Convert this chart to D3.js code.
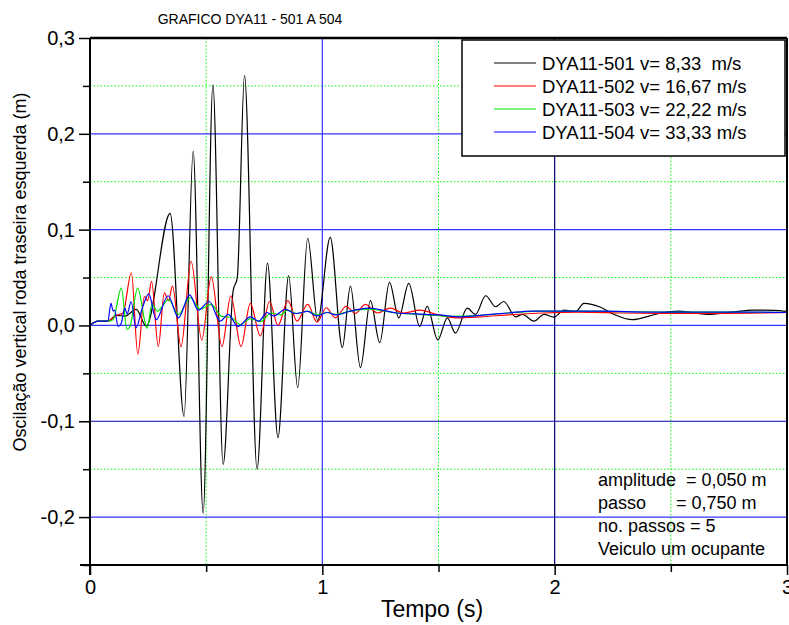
<!DOCTYPE html>
<html>
<head>
<meta charset="utf-8">
<script src="https://cdn.jsdelivr.net/npm/d3@7"></script>
<style>
  html, body { margin: 0; padding: 0; background: #fff; }
  svg { display: block; font-family: "Liberation Sans", Arial, sans-serif; }
</style>
</head>
<body>
<svg id="chart" width="789" height="625"></svg>
<script>
// ---------------- DATA ----------------
const chartTitle = "GRAFICO DYA11 - 501 A 504";
const xTitle = "Tempo (s)";
const yTitle = "Oscilação vertical roda traseira esquerda (m)";
const seriesNames = [
  "DYA11-501 v= 8,33  m/s",
  "DYA11-502 v= 16,67 m/s",
  "DYA11-503 v= 22,22 m/s",
  "DYA11-504 v= 33,33 m/s"
];
const xTicks = [0, 1, 2, 3];
const xTickLabels = ["0", "1", "2", "3"];
const yTicks = [0.3, 0.2, 0.1, 0.0, -0.1, -0.2];
const yTickLabels = ["0,3", "0,2", "0,1", "0,0", "-0,1", "-0,2"];
const xMinor = [0.5, 1.5, 2.5];
const yMinor = [0.25, 0.15, 0.05, -0.05, -0.15, -0.25];
const notes = ["amplitude  = 0,050 m", "passo      = 0,750 m", "no. passos = 5", "Veiculo um ocupante"];

// [time (s), displacement (m)]
const dya501 = [[0,0],[0.035,0.0045],[0.077,0.0045],[0.113,0.0105],[0.150,0.0097],[0.199,0.0167],[0.242,-0.0007],
  [0.345,0.117],[0.405,-0.095],[0.444,0.182],[0.487,-0.196],[0.529,0.251],[0.573,-0.145],[0.616,0.036],[0.634,0.05],
  [0.665,0.261],[0.719,-0.150],[0.764,0.065],[0.809,-0.117],[0.855,0.052],[0.894,-0.065],[0.937,0.091],[0.980,0.005],
  [1.034,0.092],[1.086,-0.023],[1.121,0.041],[1.164,-0.044],[1.207,0.026],[1.247,-0.018],[1.289,0.045],[1.329,0.008],
  [1.372,0.044],[1.419,-0.001],[1.451,0.020],[1.497,-0.015],[1.538,0.008],[1.573,-0.008],[1.624,0.018],[1.659,0.0115],
  [1.703,0.031],[1.746,0.0195],[1.781,0.025],[1.832,0.009],[1.861,0.0115],[1.911,0.0045],[1.954,0.0115],[1.997,0.0087],
  [2.040,0.016],[2.091,0.0146],[2.126,0.023],[2.198,0.019],[2.256,0.0115],[2.335,0.006],[2.406,0.0097],[2.457,0.013],
  [2.536,0.015],[2.658,0.0115],[2.759,0.0139],[2.859,0.016],[2.945,0.0157],[3.0,0.0146]];

const dya502 = [[0,0],[0.035,0.0045],[0.077,0.0045],[0.113,0.0105],[0.142,0.013],[0.178,0.055],[0.206,-0.030],
  [0.234,0.030],[0.248,0.026],[0.265,0.046],[0.294,-0.022],[0.320,0.034],[0.338,0.026],[0.355,0.041],[0.392,-0.022],
  [0.435,0.067],[0.481,-0.015],[0.522,0.051],[0.568,-0.022],[0.606,0.031],[0.650,-0.022],[0.690,0.023],[0.733,-0.011],
  [0.773,0.025],[0.809,0.0],[0.852,0.026],[0.891,0.0045],[0.937,0.022],[0.977,0.0035],[1.017,0.0185],[1.056,0.008],
  [1.103,0.020],[1.142,0.0125],[1.185,0.022],[1.237,0.013],[1.293,0.018],[1.349,0.013],[1.42,0.016],[1.5,0.011],
  [1.58,0.008],[1.68,0.009],[1.8,0.011],[1.95,0.013],[2.1,0.014],[2.3,0.013],[2.5,0.0125],[2.7,0.0125],[2.9,0.013],[3.0,0.0135]];

const dya503 = [[0,0],[0.035,0.0045],[0.077,0.0045],[0.099,0.006],[0.135,0.039],[0.159,-0.004],[0.172,-0.001],
  [0.205,0.039],[0.246,-0.003],[0.267,0.022],[0.29,0.015],[0.338,0.027],[0.381,0.0115],[0.431,0.029],[0.474,0.017],
  [0.522,0.022],[0.565,0.0097],[0.61,0.008],[0.648,0.001],[0.69,0.007],[0.733,0.004],[0.78,0.013],[0.82,0.011],
  [0.85,0.016],[0.89,0.0125],[0.937,0.015],[0.98,0.011],[1.02,0.0135],[1.06,0.0115],[1.12,0.015],[1.2,0.017],
  [1.32,0.013],[1.45,0.011],[1.55,0.0095],[1.65,0.010],[1.8,0.013],[1.95,0.015],[2.1,0.015],[2.3,0.0145],[2.5,0.014],
  [2.7,0.014],[2.9,0.0138],[3.0,0.0135]];

const dya504 = [[0,0],[0.035,0.0045],[0.077,0.0045],[0.090,0.023],[0.100,0.015],[0.106,0.016],[0.121,-0.001],
  [0.134,0.002],[0.150,0.018],[0.160,0.012],[0.177,0.025],[0.198,-0.0025],[0.225,0.018],[0.253,0.033],[0.285,0.006],
  [0.336,0.031],[0.381,0.008],[0.429,0.032],[0.466,0.016],[0.513,0.025],[0.560,0.0045],[0.595,0.0115],[0.637,-0.001],
  [0.690,0.009],[0.726,0.0045],[0.762,0.0135],[0.790,0.010],[0.841,0.0167],[0.884,0.0125],[0.937,0.0146],[0.977,0.010],
  [1.02,0.0135],[1.06,0.011],[1.12,0.015],[1.2,0.018],[1.32,0.013],[1.4,0.012],[1.5,0.011],[1.6,0.009],[1.7,0.011],
  [1.8,0.013],[1.9,0.015],[2.0,0.015],[2.2,0.015],[2.4,0.014],[2.6,0.014],[2.8,0.014],[3.0,0.0135]];

const seriesData = [dya501, dya502, dya503, dya504];

// ---------------- STYLE / LAYOUT ----------------
const seriesColors = ["#000000", "#ff0000", "#00e600", "#0000ff"];
const L = 90, R = 787, T = 38, B = 565;
const FONT = '"Liberation Sans", Arial, sans-serif';

const svg = d3.select("#chart");
const x = d3.scaleLinear().domain([0, 3]).range([L, R]);
const y = d3.scaleLinear().domain([-0.25, 0.3]).range([B, T]);

// minor grid (green dotted)
const grid = svg.append("g");
grid.selectAll(".hmin").data(yMinor.filter(v => v > -0.25)).enter().append("line")
  .attr("x1", L).attr("x2", R).attr("y1", d => y(d)).attr("y2", d => y(d))
  .attr("stroke", "#00ff00").attr("stroke-width", 1).attr("stroke-dasharray", "1.5,2");
grid.selectAll(".vmin").data(xMinor).enter().append("line")
  .attr("y1", T).attr("y2", B).attr("x1", d => x(d)).attr("x2", d => x(d))
  .attr("stroke", "#00ff00").attr("stroke-width", 1).attr("stroke-dasharray", "1.5,2");
// major grid (blue)
grid.selectAll(".hmaj").data(yTicks.filter(v => v < 0.3)).enter().append("line")
  .attr("x1", L).attr("x2", R).attr("y1", d => y(d)).attr("y2", d => y(d))
  .attr("stroke", d => d === -0.1 ? "#0000b0" : "#3333ff").attr("stroke-width", 1.2);
grid.selectAll(".vmaj").data(xTicks.filter(v => v > 0 && v < 3)).enter().append("line")
  .attr("y1", T).attr("y2", B).attr("x1", d => x(d)).attr("x2", d => x(d))
  .attr("stroke", d => d === 2 ? "#00006a" : "#3333ff").attr("stroke-width", 1.2);

// series
const line = d3.line().x(d => x(d[0])).y(d => y(d[1])).curve(d3.curveMonotoneX);
svg.append("clipPath").attr("id", "clip").append("rect")
  .attr("x", L).attr("y", T).attr("width", R - L).attr("height", B - T);
svg.append("g").attr("clip-path", "url(#clip)").selectAll("path").data(seriesData).enter().append("path")
  .attr("d", line).attr("fill", "none")
  .attr("stroke", (d, i) => seriesColors[i]).attr("stroke-width", 1.2);

// axes
const yAxisMaj = d3.axisLeft(y).tickValues(yTicks).tickSize(11).tickFormat((d, i) => yTickLabels[i]).tickPadding(4);
const gy = svg.append("g").attr("transform", `translate(${L},0)`).call(yAxisMaj);
gy.select(".domain").remove();
gy.selectAll("line").attr("stroke", "#000").attr("stroke-width", 1.5);
gy.selectAll("text").attr("font-size", 20).attr("fill", "#000").attr("font-family", FONT);
const gyMin = svg.append("g").attr("transform", `translate(${L},0)`).call(d3.axisLeft(y).tickValues(yMinor).tickSize(7).tickFormat(""));
gyMin.select(".domain").remove();
gyMin.selectAll("line").attr("stroke", "#000").attr("stroke-width", 1.5);

const xAxisMaj = d3.axisBottom(x).tickValues(xTicks).tickSize(10).tickFormat((d, i) => xTickLabels[i]).tickPadding(5);
const gx = svg.append("g").attr("transform", `translate(0,${B})`).call(xAxisMaj);
gx.select(".domain").remove();
gx.selectAll("line").attr("stroke", "#000").attr("stroke-width", 1.5);
gx.selectAll("text").attr("font-size", 20).attr("fill", "#000").attr("font-family", FONT);
const gxMin = svg.append("g").attr("transform", `translate(0,${B})`).call(d3.axisBottom(x).tickValues(xMinor).tickSize(7).tickFormat(""));
gxMin.select(".domain").remove();
gxMin.selectAll("line").attr("stroke", "#000").attr("stroke-width", 1.5);

// frame
svg.append("line").attr("x1", L - 10).attr("x2", R).attr("y1", B).attr("y2", B).attr("stroke", "#000").attr("stroke-width", 2);
svg.append("line").attr("x1", L).attr("x2", L).attr("y1", T).attr("y2", B + 10).attr("stroke", "#000").attr("stroke-width", 2);
svg.append("line").attr("x1", L).attr("x2", R).attr("y1", T).attr("y2", T).attr("stroke", "#000").attr("stroke-width", 2.5);
svg.append("line").attr("x1", R).attr("x2", R).attr("y1", T).attr("y2", B).attr("stroke", "#000").attr("stroke-width", 2);

// titles
svg.append("text").attr("x", 250).attr("y", 24).attr("text-anchor", "middle")
  .attr("font-size", 14).text(chartTitle);
svg.append("text").attr("x", 432).attr("y", 617).attr("text-anchor", "middle")
  .attr("font-size", 23).text(xTitle);
svg.append("text").attr("transform", `translate(26,${272}) rotate(-90)`).attr("text-anchor", "middle")
  .attr("font-size", 18).text(yTitle);

// legend
const lg = svg.append("g");
lg.append("rect").attr("x", 462).attr("y", 40).attr("width", 323).attr("height", 116)
  .attr("fill", "#fff").attr("stroke", "#000").attr("stroke-width", 1.5);
seriesNames.forEach((name, i) => {
  const yy = 63 + i * 23;
  lg.append("line").attr("x1", 494).attr("x2", 536).attr("y1", yy).attr("y2", yy)
    .attr("stroke", seriesColors[i]).attr("stroke-width", 1.2);
  lg.append("text").attr("x", 542).attr("y", yy + 6.5).attr("font-size", 18.5)
    .style("white-space", "pre").text(name);
});

// notes
notes.forEach((n, i) => {
  svg.append("text").attr("x", 598).attr("y", 486 + i * 23).attr("font-size", 18)
    .style("white-space", "pre").text(n);
});
</script>
</body>
</html>
